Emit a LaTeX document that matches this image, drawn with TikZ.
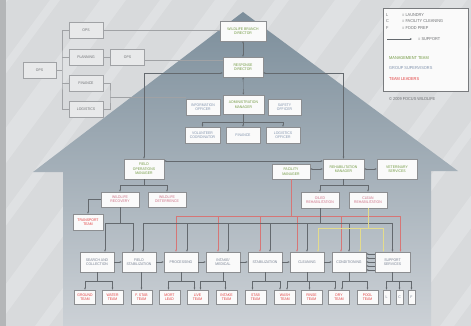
\documentclass[tikz,border=0pt]{standalone}
\usepackage{fontspec}
\setmainfont[FakeStretch=0.9]{Liberation Sans}
\usetikzlibrary{arrows.meta}

\definecolor{bg}{RGB}{216,218,220}
\definecolor{leftstrip}{RGB}{180,182,184}
\definecolor{housetop}{RGB}{124,142,155}
\definecolor{housebot}{RGB}{204,209,214}
\definecolor{boxline}{RGB}{140,142,145}
\definecolor{boxfill}{RGB}{250,250,250}
\definecolor{opsfill}{RGB}{232,233,234}
\definecolor{opsline}{RGB}{160,162,165}
\definecolor{opstext}{RGB}{110,112,115}
\definecolor{mgmtgreen}{RGB}{112,152,64}
\definecolor{supblue}{RGB}{128,146,172}
\definecolor{unittext}{RGB}{118,128,145}
\definecolor{subpink}{RGB}{204,110,132}
\definecolor{leadred}{RGB}{226,62,62}
\definecolor{linegray}{RGB}{100,105,110}
\definecolor{redline}{RGB}{214,118,118}
\definecolor{yelline}{RGB}{228,220,140}
\definecolor{legendline}{RGB}{120,122,125}

\tikzset{
	chart/.style={x=1pt, y=-1pt, >={Stealth[length=2.2pt,width=1.8pt]}, line width=0.4pt},
	unit/.style={draw=boxline, fill=boxfill, line width=0.5pt, align=center, inner sep=0pt,
		minimum width=34pt, minimum height=16pt, font=\fontsize{3.8}{4.4}\selectfont},
	opsbox/.style={unit, fill=opsfill, draw=opsline, text=opstext},
	mgmt/.style={unit, text=mgmtgreen, minimum width=40pt, minimum height=20pt},
	super/.style={unit, text=supblue},
	subgroup/.style={unit, text=subpink, minimum width=38pt, minimum height=15pt},
	unitbox/.style={unit, text=unittext, minimum height=20pt},
	leader/.style={unit, text=leadred, minimum width=21pt, minimum height=14pt},
	legendtxt/.style={anchor=west, inner sep=0pt, font=\fontsize{4.3}{5}\selectfont, text=opstext},
	conn/.style={draw=linegray},
	redconn/.style={draw=redline},
	yelconn/.style={draw=yelline, line width=0.6pt}
}

\begin{document}
\begin{tikzpicture}[chart]
	\useasboundingbox (0,0) rectangle (471,326);
	\fill[bg] (0,0) rectangle (471,326);
	\begin{scope}
		\clip (0,0) rectangle (471,326);
		\foreach \x/\w in {-250/18, -190/10, -140/26, -80/12, -25/22, 35/14, 95/26, 155/10, 205/22, 265/16, 320/12, 375/24, 440/14}
			\fill[white, opacity=0.2] (\x,326) -- ++(\w,0) -- ++(240,-326) -- ++(-\w,0) -- cycle;
	\end{scope}
	\fill[leftstrip] (0,0) rectangle (6,326);
	\shade[top color=housetop, bottom color=housebot]
		(243,12) -- (458,171) -- (431,171) -- (431,326) -- (63,326) -- (63,172) -- (33,172) -- cycle;

	\node[opsbox, minimum width=33pt] (opsmain) at (39.5,70) {OPS};
	\node[opsbox] (opstop) at (86,30) {OPS};
	\node[opsbox] (planning) at (86,57) {PLANNING};
	\node[opsbox] (opsplan) at (127.5,57) {OPS};
	\node[opsbox] (finops) at (86,83.5) {FINANCE};
	\node[opsbox] (logops) at (86,109.5) {LOGISTICS};

	\node[mgmt, minimum width=46pt] (branch) at (243,31) {WILDLIFE BRANCH\\DIRECTOR};
	\node[mgmt] (response) at (243,67) {RESPONSE\\DIRECTOR};
	\node[mgmt, minimum width=41pt, minimum height=19pt] (admin) at (243.5,104.5) {ADMINISTRATION\\MANAGER};
	\node[super] (info) at (203,107) {INFORMATION\\OFFICER};
	\node[super, minimum width=33pt] (safety) at (284.5,107) {SAFETY\\OFFICER};
	\node[super, minimum width=35pt] (volunteer) at (202.5,135) {VOLUNTEER\\COORDINATOR};
	\node[super] (finadmin) at (243,135) {FINANCE};
	\node[super] (logadmin) at (283,135) {LOGISTICS\\OFFICER};

	\node[mgmt] (fieldops) at (144,169) {FIELD\\OPERATIONS\\MANAGER};
	\node[mgmt, minimum width=38pt, minimum height=15pt] (facility) at (291,171.5) {FACILITY\\MANAGER};
	\node[mgmt, minimum width=41pt] (rehab) at (343.5,169) {REHABILITATION\\MANAGER};
	\node[mgmt] (vet) at (397,169) {VETERINARY\\SERVICES};

	\node[subgroup] (recovery) at (120,199.5) {WILDLIFE\\RECOVERY};
	\node[subgroup] (deterrence) at (167,199.5) {WILDLIFE\\DETERRENCE};
	\node[subgroup, minimum height=16pt] (oiled) at (320,200) {OILED\\REHABILITATION};
	\node[subgroup, minimum height=16pt] (clean) at (368,200) {CLEAN\\REHABILITATION};
	\node[leader, minimum width=30pt, minimum height=16pt] (transport) at (88,222) {TRANSPORT\\TEAM};

	\node[unitbox] (search) at (97,262) {SEARCH AND\\COLLECTION};
	\node[unitbox] (fieldstab) at (139,262) {FIELD\\STABILIZATION};
	\node[unitbox] (processing) at (181,262) {PROCESSING};
	\node[unitbox] (intake) at (223,262) {INTAKE/\\MEDICAL};
	\node[unitbox] (stabilization) at (265,262) {STABILIZATION};
	\node[unitbox] (cleaning) at (307,262) {CLEANING};
	\node[unitbox] (conditioning) at (349,262) {CONDITIONING};
	\node[unitbox, minimum width=35pt] (supportsrv) at (392.5,262) {SUPPORT\\SERVICES};

	\node[leader] (ground) at (85,297) {GROUND\\TEAM};
	\node[leader] (water) at (112.5,297) {WATER\\TEAM};
	\node[leader] (fstab) at (141.5,297) {F. STAB\\TEAM};
	\node[leader] (mort) at (169.5,297) {MORT\\LEAD};
	\node[leader] (live) at (197.5,297) {LIVE\\TEAM};
	\node[leader] (intaketeam) at (226.5,297) {INTAKE\\TEAM};
	\node[leader] (stabteam) at (255.5,297) {STAB\\TEAM};
	\node[leader] (wash) at (285,297) {WASH\\TEAM};
	\node[leader] (rinse) at (311.5,297) {RINSE\\TEAM};
	\node[leader] (dry) at (339,297) {DRY\\TEAM};
	\node[leader] (pool) at (367.5,297) {POOL\\TEAM};
	\node[leader, text=unittext, minimum width=7pt] (laundry) at (386.5,297) {L};
	\node[leader, text=unittext, minimum width=7pt] (cleanup) at (399.5,297) {C};
	\node[leader, text=unittext, minimum width=7pt] (food) at (411.5,297) {F};

	\coordinate (opsbus) at (62,70);
	\coordinate (finbus) at (110,97);
	\draw[opsline] (opsmain) -- (opsbus);
	\draw[opsline] (opstop.west) -| (opsbus) |- (logops.west);
	\draw[opsline] (planning.west) -- (planning.west -| opsbus);
	\draw[opsline] (finops.west) -- (finops.west -| opsbus);
	\draw[opsline] (planning) -- (opsplan);
	\draw[opsline] (opstop) -- (opstop -| branch.west);
	\draw[opsline] ([yshift=-3pt]opsplan.east) -- ([yshift=-3pt]opsplan.east -| response.west);
	\draw[opsline] (finops.east) -| (finbus) |- (logops.east);
	\draw[opsline] (finbus) -- (finbus -| info.west);

	\coordinate (adminbus) at (243,122);
	\draw[conn, <->] (branch) -- (response);
	\draw[conn, <->] (response) -- (admin);
	\draw[conn, ->] (admin.south -| finadmin) -- (finadmin);
	\draw[conn, ->] (adminbus) -| (volunteer);
	\draw[conn, ->] (adminbus) -| (logadmin);

	\draw[conn, <->] ([yshift=-6pt]response.west) -| (fieldops);
	\draw[conn, <->] ([yshift=-6pt]response.east) -| (rehab);
	\draw[conn, <->] ([yshift=8pt]fieldops.east) -- ([yshift=8pt]fieldops.east -| rehab.west);
	\draw[conn, <->] (rehab.west) -- (rehab.west -| facility.east);
	\draw[conn, <->] (rehab) -- (vet);

	\coordinate (fieldbus) at (144,185);
	\coordinate (rehabbus) at (343.5,185);
	\draw[conn] (fieldops) -- (fieldbus);
	\draw[conn, ->] (fieldbus) -| (recovery);
	\draw[conn, ->] (fieldbus) -| (deterrence);
	\draw[conn, ->] (recovery.west) -| (transport);
	\draw[conn] (rehab) -- (rehabbus);
	\draw[conn, ->] (rehabbus) -| (oiled);
	\draw[conn, ->] (rehabbus) -| (clean);

	\coordinate (redbus) at (0,216);
	\coordinate (greybus) at (0,223);
	\coordinate (yelbus) at (0,228);
	\coordinate (teambus) at (0,281);

	\draw[redconn] (facility) -- (facility |- redbus);
	\foreach \t/\s in {processing/-5, intake/-5, stabilization/-5, cleaning/-10, conditioning/-8, supportsrv/8}
		\draw[redconn, ->] (facility |- redbus) -| ([xshift=\s pt]\t.north);
	\draw[conn] (recovery) -- (recovery |- greybus);
	\foreach \t/\s in {search/8, fieldstab/-6}
		\draw[conn, ->] (recovery |- greybus) -| ([xshift=\s pt]\t.north);
	\draw[conn] (oiled) -- (oiled |- greybus);
	\foreach \t/\s in {fieldstab/4, processing/6, intake/5, stabilization/5, cleaning/0, conditioning/0, supportsrv/0}
		\draw[conn, ->] (oiled |- greybus) -| ([xshift=\s pt]\t.north);
	\draw[yelconn] (clean) -- (clean |- yelbus);
	\foreach \t/\s in {cleaning/11, conditioning/11, supportsrv/-9}
		\draw[yelconn, ->] (clean |- yelbus) -| ([xshift=\s pt]\t.north);

	\foreach \a/\b in {search/fieldstab, fieldstab/processing, processing/intake, intake/stabilization, stabilization/cleaning, cleaning/conditioning}
		\draw[conn, ->] (\a) -- (\b);
	\foreach \s in {-8,-4,0,4,8}
		\draw[conn, ->] ([yshift=\s pt]supportsrv.west) -- ([yshift=\s pt]supportsrv.west -| conditioning.east);

	\draw[conn, ->] (fieldstab.south -| fstab) -- (fstab);
	\foreach \p/\t/\s in {search/ground/0, search/water/0, processing/mort/-1, processing/live/-3, intake/live/3, intake/intaketeam/-1, stabilization/stabteam/-3, stabilization/wash/-5, cleaning/wash/2, cleaning/rinse/-2, cleaning/dry/-4, conditioning/dry/3, conditioning/pool/0, supportsrv/laundry/0, supportsrv/cleanup/0, supportsrv/food/0}
		\draw[conn, ->] (\p.south) |- ([xshift=\s pt]\t.north |- teambus) -- ([xshift=\s pt]\t.north);

	\node[draw=legendline, fill=boxfill, line width=0.6pt, minimum width=85pt, minimum height=83pt, inner sep=0pt] (legend) at (425.5,49.5) {};
	\node[legendtxt] (keyl) at (386,15) {L};
	\node[legendtxt] (keylaundry) at (402,15) {= LAUNDRY};
	\node[legendtxt] (keyc) at (386,21.5) {C};
	\node[legendtxt] (keycleaning) at (402,21.5) {= FACILITY CLEANING};
	\node[legendtxt] (keyf) at (386,28) {F};
	\node[legendtxt] (keyfood) at (402,28) {= FOOD PREP};
	\coordinate (keya) at (387,39);
	\coordinate (keyb) at (412,39);
	\draw[conn, ->] (keya) -- (keyb);
	\node[legendtxt] (keysupport) at (418,39) {= SUPPORT};
	\node[legendtxt, text=mgmtgreen] (keymgmt) at (389,58) {MANAGEMENT TEAM};
	\node[legendtxt, text=supblue] (keysuper) at (389,68) {GROUP SUPERVISORS};
	\node[legendtxt, text=leadred] (keylead) at (389,79) {TEAM LEADERS};
	\node[legendtxt] (copyright) at (389,99) {\textcopyright\ 2009 FOCUS WILDLIFE};
\end{tikzpicture}
\end{document}
